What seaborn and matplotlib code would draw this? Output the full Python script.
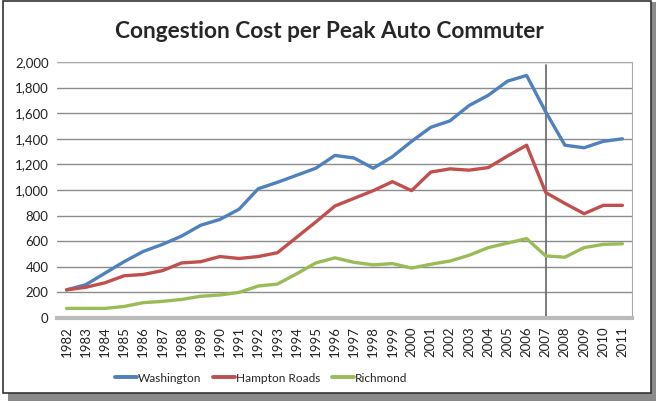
import numpy as np
import pandas as pd
import seaborn as sns
import matplotlib
matplotlib.use('Agg')
import matplotlib.pyplot as plt
from matplotlib.patches import Rectangle

years = list(range(1982, 2012))
washington = [220, 260, 350, 440, 520, 575, 640, 725, 770, 850,
              1010, 1060, 1115, 1170, 1270, 1250, 1170, 1260, 1380, 1490,
              1540, 1660, 1740, 1850, 1895, 1610, 1350, 1330, 1380, 1400]
hampton_roads = [220, 240, 275, 330, 340, 370, 430, 440, 480, 465,
                 480, 510, 630, 750, 875, 935, 995, 1065, 995, 1140,
                 1165, 1155, 1175, 1265, 1350, 980, 895, 815, 880, 880]
richmond = [75, 75, 75, 90, 120, 130, 145, 170, 180, 200,
            250, 265, 345, 430, 470, 435, 415, 425, 390, 420,
            445, 490, 550, 585, 620, 485, 475, 550, 575, 580]
series_names = ["Washington", "Hampton Roads", "Richmond"]
colors = ["#4F81BD", "#C0504D", "#9BBB59"]

df = pd.DataFrame({"Year": years * 3,
                   "Cost": washington + hampton_roads + richmond,
                   "Region": sum([[n] * len(years) for n in series_names], [])})

sns.set_style("white")
plt.rcParams['font.family'] = ['Lato', 'DejaVu Sans']

fig = plt.figure(figsize=(6.58, 4.09), dpi=100)

# outer chart frame with drop shadow
fig.patches.append(Rectangle((0.012, 0.02), 0.985, 0.975, transform=fig.transFigure,
                             facecolor="#8a8a8a", edgecolor="none", zorder=-3))
fig.patches.append(Rectangle((0.004, 0.04), 0.985, 0.958, transform=fig.transFigure,
                             facecolor="white", edgecolor="#333333", linewidth=1.2, zorder=-2))

ax = fig.add_axes([57 / 658, 1 - 318 / 409, (632 - 57) / 658, (318 - 62) / 409])
ax.patch.set_alpha(0)
sns.lineplot(data=df, x="Year", y="Cost", hue="Region", palette=colors,
             linewidth=2.4, ax=ax, zorder=3)

ax.axvline(2007, color="#666666", linewidth=1.2, zorder=2, ymax=0.99)

ax.set_xlim(1981.5, 2011.5)
ax.set_ylim(0, 2000)
ax.set_yticks(range(0, 2001, 200))
ax.set_yticklabels([f"{v:,}" for v in range(0, 2001, 200)], fontsize=9.5, color="#222222")
ax.set_xticks(years)
ax.set_xticklabels([str(y) for y in years], rotation=90, fontsize=9.5, color="#222222")
ax.tick_params(axis='both', length=0, pad=6)
ax.grid(axis='y', color="#8c8c8c", linewidth=1)
ax.set_axisbelow(True)
ax.set_xlabel("")
ax.set_ylabel("")
for side in ["top", "right"]:
    ax.spines[side].set_color("#aaaaaa")
ax.spines["left"].set_visible(False)
ax.spines["bottom"].set_color("#bbbbbb")
ax.spines["bottom"].set_linewidth(3)

fig.text(0.5, 1 - 32 / 409, "Congestion Cost per Peak Auto Commuter",
         ha="center", va="center", fontsize=16.3, fontweight="bold")

leg = ax.legend(loc="center", bbox_to_anchor=(0.355, -0.235), ncol=3, frameon=False,
                fontsize=8.6, handlelength=1.8, handletextpad=0.1, columnspacing=1.0)
for line in leg.get_lines():
    line.set_linewidth(2.8)

fig.savefig("out.png", dpi=100)
